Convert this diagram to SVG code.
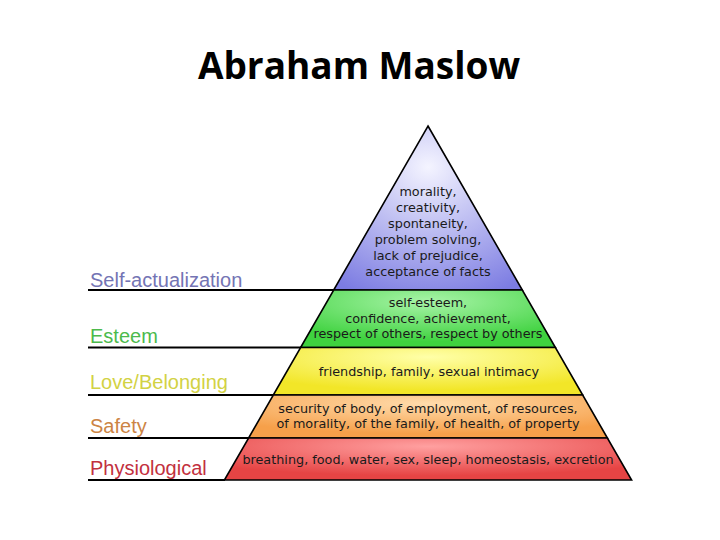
<svg xmlns="http://www.w3.org/2000/svg" width="720" height="540" viewBox="0 0 720 540">
<defs>
<radialGradient id="gBlue" cx="0.5" cy="0.25" r="0.85">
<stop offset="0" stop-color="#f4f4ff"/><stop offset="1" stop-color="#7c7ce2"/>
</radialGradient>
<radialGradient id="gGreen" cx="0.5" cy="0.2" r="0.7">
<stop offset="0" stop-color="#a8f4a8"/><stop offset="1" stop-color="#3fd23f"/>
</radialGradient>
<radialGradient id="gYellow" cx="0.5" cy="0.2" r="0.7">
<stop offset="0" stop-color="#ffffa8"/><stop offset="1" stop-color="#f2e628"/>
</radialGradient>
<radialGradient id="gOrange" cx="0.5" cy="0.2" r="0.7">
<stop offset="0" stop-color="#ffdcac"/><stop offset="1" stop-color="#f6a04a"/>
</radialGradient>
<radialGradient id="gRed" cx="0.5" cy="0.2" r="0.7">
<stop offset="0" stop-color="#ffa0a0"/><stop offset="1" stop-color="#e64444"/>
</radialGradient>
</defs>
<style>
.band{stroke:#000;stroke-width:1.6;stroke-linejoin:miter}
.rule{stroke:#000;stroke-width:2;fill:none}
.lbl{font-family:"Liberation Sans",Arial,sans-serif;font-size:20px}
.in{font-family:"DejaVu Sans",Verdana,sans-serif;font-size:12.8px;fill:#1a1a1a;text-anchor:middle}
.title{font-family:"Open Sans","Liberation Sans",sans-serif;font-weight:bold;font-size:37px;fill:#000;text-anchor:middle}
</style>
<rect width="720" height="540" fill="#fff"/>
<text class="title" x="359" y="79">Abraham Maslow</text>

<g id="connectors">
<line class="rule" x1="88" y1="290" x2="334" y2="290"/>
<line class="rule" x1="88" y1="347.5" x2="301" y2="347.5"/>
<line class="rule" x1="88" y1="395" x2="274" y2="395"/>
<line class="rule" x1="88" y1="438" x2="249" y2="438"/>
<line class="rule" x1="88" y1="480" x2="225" y2="480"/>
</g>

<g id="self-actualization">
<polygon class="band" fill="url(#gBlue)" points="428,126 522.3,290 333.7,290"/>
<text class="lbl" x="90" y="287" fill="#7474b4">Self-actualization</text>
<text class="in" x="428" y="196">morality,</text>
<text class="in" x="428" y="212">creativity,</text>
<text class="in" x="428" y="228">spontaneity,</text>
<text class="in" x="428" y="244">problem solving,</text>
<text class="in" x="428" y="260">lack of prejudice,</text>
<text class="in" x="428" y="276">acceptance of facts</text>
</g>

<g id="esteem">
<polygon class="band" fill="url(#gGreen)" points="333.7,290 522.3,290 555.4,347.5 300.6,347.5"/>
<text class="lbl" x="90" y="343" fill="#4cba4c">Esteem</text>
<text class="in" x="428" y="307">self-esteem,</text>
<text class="in" x="428" y="322.5">confidence, achievement,</text>
<text class="in" x="428" y="338">respect of others, respect by others</text>
</g>

<g id="love-belonging">
<polygon class="band" fill="url(#gYellow)" points="300.6,347.5 555.4,347.5 582.7,395 273.3,395"/>
<text class="lbl" x="90" y="389" fill="#d2d244">Love/Belonging</text>
<text class="in" x="429" y="375.5">friendship, family, sexual intimacy</text>
</g>

<g id="safety">
<polygon class="band" fill="url(#gOrange)" points="273.3,395 582.7,395 607.4,438 248.6,438"/>
<text class="lbl" x="90" y="433" fill="#cc8444">Safety</text>
<text class="in" x="428" y="413">security of body, of employment, of resources,</text>
<text class="in" x="428" y="428">of morality, of the family, of health, of property</text>
</g>

<g id="physiological">
<polygon class="band" fill="url(#gRed)" points="248.6,438 607.4,438 631.6,480 224.4,480"/>
<text class="lbl" x="90" y="475" fill="#c2303e">Physiological</text>
<text class="in" x="428" y="464">breathing, food, water, sex, sleep, homeostasis, excretion</text>
</g>
</svg>
